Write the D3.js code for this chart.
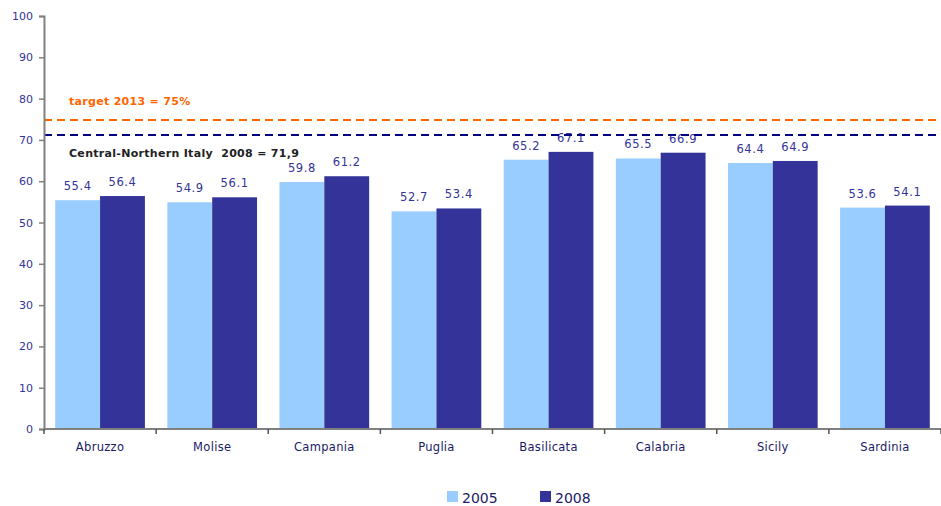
<!DOCTYPE html>
<html><head><meta charset="utf-8">
<script src="https://cdn.jsdelivr.net/npm/d3@7"></script>
<style>body{margin:0;background:#fff;} svg{display:block;}</style>
</head><body>
<svg id="c" width="941" height="506"></svg>
<script>
const categories = ["Abruzzo","Molise","Campania","Puglia","Basilicata","Calabria","Sicily","Sardinia"];
const values2005 = [55.4,54.9,59.8,52.7,65.2,65.5,64.4,53.6];
const values2008 = [56.4,56.1,61.2,53.4,67.1,66.9,64.9,54.1];
const seriesNames = ["2005","2008"];
const yTicks = [0,10,20,30,40,50,60,70,80,90,100];
const targetValue = 74.8, targetLabel = "target 2013 = 75%";
const northValue = 71.2, northLabel = "Central-Northern Italy  2008 = 71,9";

const colors = ["#99CCFF","#333399"];
const FONT = "DejaVu Sans, Verdana, sans-serif";
const svg = d3.select("#c");
const m = {left:44, right:0, top:16, bottom:77};
const W = 941, H = 506;
const x = d3.scaleBand().domain(categories).range([m.left, W]).paddingInner(0.2).paddingOuter(0.1);
const x0 = d3.scaleBand().domain(categories).range([m.left, W]);
const y = d3.scaleLinear().domain([0,100]).range([H-m.bottom, m.top]);
const xs = d3.scaleBand().domain(seriesNames).range([0, x.bandwidth()]);

const data = categories.map((c,i)=>({c, v:[values2005[i], values2008[i]]}));
const g = svg.append("g");
data.forEach(d=>{
  seriesNames.forEach((s,j)=>{
    const bx = x(d.c)+xs(s);
    g.append("rect").attr("x",bx).attr("y",y(d.v[j])).attr("width",xs.bandwidth()).attr("height",y(0)-y(d.v[j])).attr("fill",colors[j]);
    g.append("text").attr("x",bx+xs.bandwidth()/2).attr("y",y(d.v[j])-10)
      .attr("text-anchor","middle").attr("font-family",FONT).attr("font-size",11.5)
      .attr("letter-spacing",0.6).attr("fill","#333399").text(d.v[j].toFixed(1));
  });
});

// reference lines
svg.append("line").attr("x1",m.left).attr("x2",W).attr("y1",y(targetValue)).attr("y2",y(targetValue))
  .attr("stroke","#FF6600").attr("stroke-width",2).attr("stroke-dasharray","8,5");
svg.append("line").attr("x1",m.left).attr("x2",W).attr("y1",y(northValue)).attr("y2",y(northValue))
  .attr("stroke","#000080").attr("stroke-width",2).attr("stroke-dasharray","8,5");
svg.append("text").attr("x",69).attr("y",105).attr("font-family",FONT).attr("font-size",11)
  .attr("font-weight","bold").attr("letter-spacing",0.3).attr("fill","#FF6600").text(targetLabel);
svg.append("text").attr("x",69).attr("y",157).attr("font-family",FONT).attr("font-size",11)
  .attr("font-weight","bold").attr("letter-spacing",0.3).attr("fill","#222").style("white-space","pre").text(northLabel);

// axes
const yAxis = svg.append("g").attr("transform",`translate(${m.left},0)`)
  .call(d3.axisLeft(y).tickValues(yTicks).tickSize(5).tickPadding(6));
yAxis.select(".domain").attr("stroke","#808080").attr("stroke-width",2);
yAxis.selectAll(".tick line").attr("stroke","#808080").attr("stroke-width",1.5);
yAxis.selectAll("text").attr("font-family",FONT).attr("font-size",11).attr("fill","#333399");

const xAxis = svg.append("g").attr("transform",`translate(0,${y(0)})`);
xAxis.append("line").attr("x1",m.left).attr("x2",W).attr("stroke","#808080").attr("stroke-width",2);
const bounds = categories.map(c=>x0(c)).concat([W]);
bounds.forEach(b=>xAxis.append("line").attr("x1",b).attr("x2",b).attr("y1",0).attr("y2",5).attr("stroke","#555").attr("stroke-width",1.5));
categories.forEach(c=>{
  xAxis.append("text").attr("x",x0(c)+x0.bandwidth()/2).attr("y",22).attr("text-anchor","middle")
    .attr("font-family",FONT).attr("font-size",11.5).attr("letter-spacing",0.3).attr("fill","#1a1a66").text(c);
});

// legend
const leg = svg.append("g");
const legX = [447, 540];
seriesNames.forEach((s,j)=>{
  leg.append("rect").attr("x",legX[j]).attr("y",491).attr("width",11).attr("height",11).attr("fill",colors[j]);
  leg.append("text").attr("x",legX[j]+15).attr("y",503).attr("font-family",FONT)
    .attr("font-size",14).attr("fill","#1a1a66").text(s);
});
</script>
</body></html>
